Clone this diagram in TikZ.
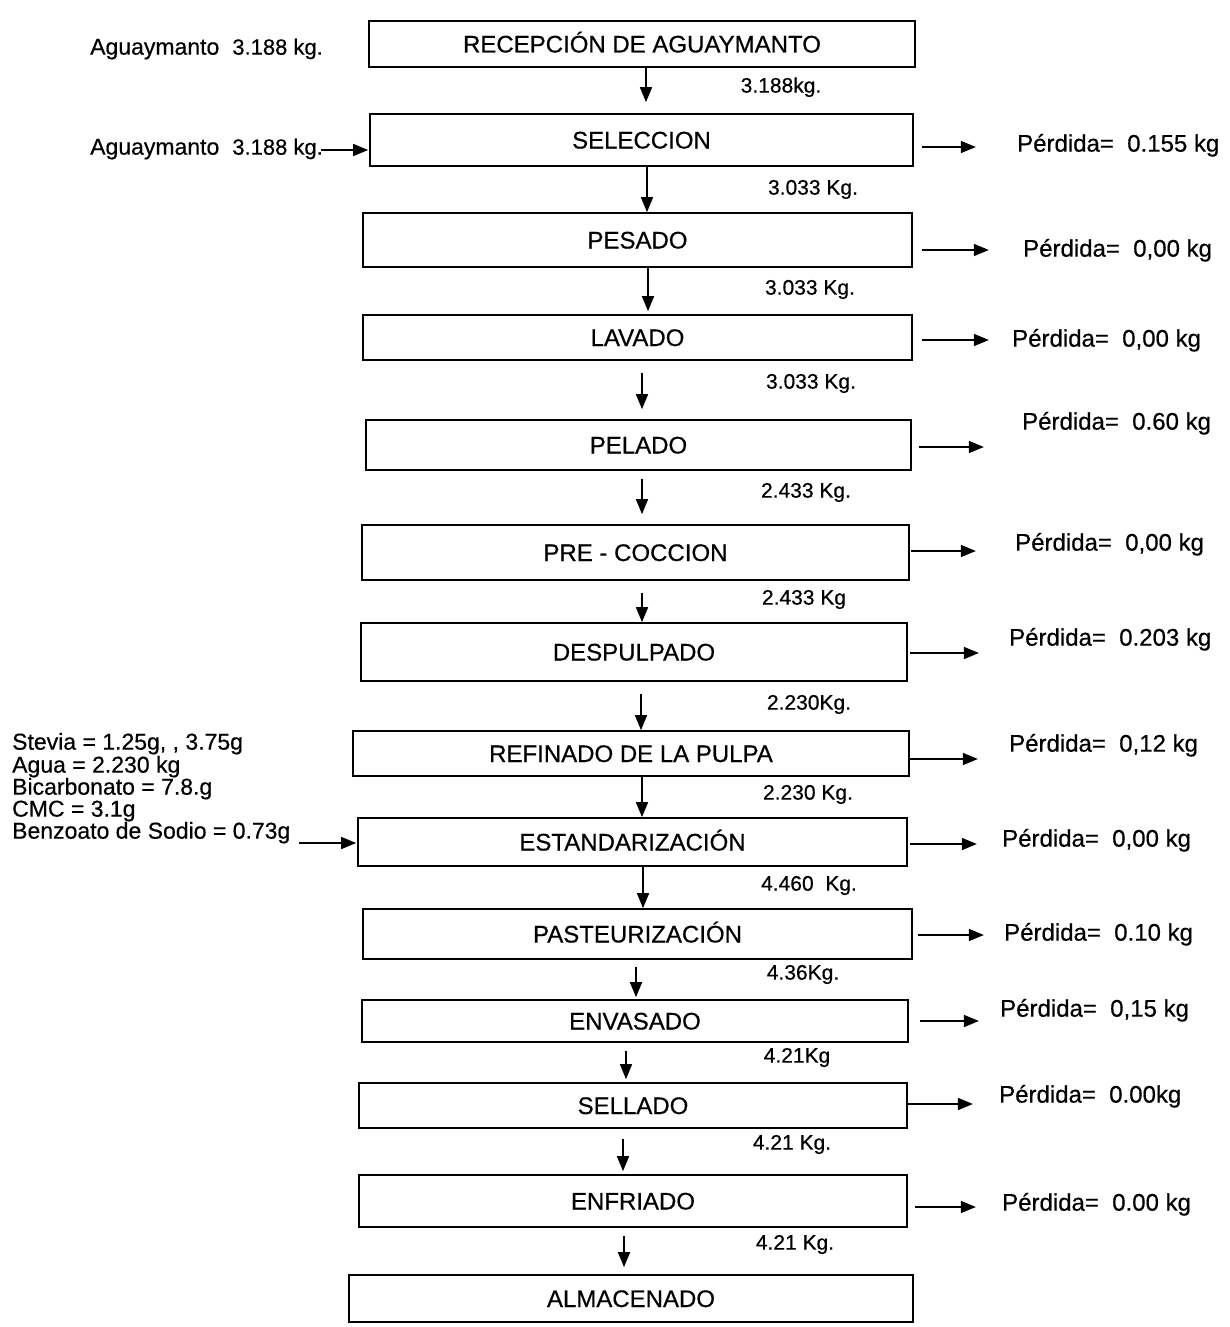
\documentclass[tikz,border=0pt]{standalone}
\usepackage{fontspec}
\setmainfont{Liberation Sans}[FakeBold=0.5]
\usetikzlibrary{arrows.meta}
\begin{document}
\begin{tikzpicture}[x=1pt,y=-1pt,
  proc/.style={draw, line width=1.7pt, inner sep=0pt, text height=17pt, text depth=0pt,
    font=\fontsize{24}{27}\selectfont},
  arr/.style={line width=1.6pt, -{Triangle[length=15pt,width=12pt]}},
  flow/.style={anchor=mid, inner sep=0pt, font=\fontsize{21}{24}\selectfont},
  loss/.style={anchor=mid west, inner sep=0pt, font=\fontsize{24}{27}\selectfont},
  inlbl/.style={anchor=mid west, inner sep=0pt, font=\fontsize{23}{27}\selectfont}]
\fill[white] (0,0) rectangle (1230,1327);
\useasboundingbox (0,0) rectangle (1230,1327);

% process boxes
\node[proc, minimum width=546pt, minimum height=46pt] (b1) at (642,44) {RECEPCIÓN DE AGUAYMANTO};
\node[proc, minimum width=543pt, minimum height=52pt] (b2) at (641.5,140) {SELECCION};
\node[proc, minimum width=549pt, minimum height=54pt] (b3) at (637.5,240) {PESADO};
\node[proc, minimum width=549pt, minimum height=45pt] (b4) at (637.5,337.5) {LAVADO};
\node[proc, minimum width=545pt, minimum height=50pt] (b5) at (638.5,445) {PELADO};
\node[proc, minimum width=547pt, minimum height=55pt] (b6) at (635.5,552.5) {PRE - COCCION};
\node[proc, minimum width=546pt, minimum height=58pt] (b7) at (634,652) {DESPULPADO};
\node[proc, minimum width=556pt, minimum height=45pt] (b8) at (631,753.5) {REFINADO DE LA PULPA};
\node[proc, minimum width=549pt, minimum height=48pt] (b9) at (632.5,842) {ESTANDARIZACIÓN};
\node[proc, minimum width=549pt, minimum height=50pt] (b10) at (637.5,934) {PASTEURIZACIÓN};
\node[proc, minimum width=546pt, minimum height=42pt] (b11) at (635,1021) {ENVASADO};
\node[proc, minimum width=548pt, minimum height=45pt] (b12) at (633,1105.5) {SELLADO};
\node[proc, minimum width=548pt, minimum height=52pt] (b13) at (633,1201) {ENFRIADO};
\node[proc, minimum width=564pt, minimum height=47pt] (b14) at (631,1298.5) {ALMACENADO};

% vertical flow arrows
\draw[arr] ([xshift=4pt]b1.south) -- ([xshift=4.5pt,yshift=11pt]b2.north);
\draw[arr] ([xshift=5.5pt]b2.south) -- ([xshift=9.5pt]b3.north);
\draw[arr] ([xshift=10.5pt]b3.south) -- ([xshift=10.5pt,yshift=3pt]b4.north);
\draw[arr] ([xshift=4.5pt,yshift=-12pt]b4.south) -- ([xshift=3.5pt,yshift=10pt]b5.north);
\draw[arr] ([xshift=3.5pt,yshift=-8pt]b5.south) -- ([xshift=6.5pt,yshift=10pt]b6.north);
\draw[arr] ([xshift=6.5pt,yshift=-12pt]b6.south) -- ([xshift=8pt]b7.north);
\draw[arr] ([xshift=7pt,yshift=-12pt]b7.south) -- ([xshift=10pt]b8.north);
\draw[arr] ([xshift=11pt]b8.south) -- ([xshift=9.5pt]b9.north);
\draw[arr] ([xshift=10.5pt]b9.south) -- ([xshift=5.5pt]b10.north);
\draw[arr] ([xshift=-1.5pt,yshift=-7pt]b10.south) -- ([xshift=1pt,yshift=2pt]b11.north);
\draw[arr] ([xshift=-9pt,yshift=-8pt]b11.south) -- ([xshift=-7pt,yshift=3pt]b12.north);
\draw[arr] ([xshift=-10pt,yshift=-10pt]b12.south) -- ([xshift=-10pt,yshift=3pt]b13.north);
\draw[arr] ([xshift=-9pt,yshift=-8pt]b13.south) -- ([xshift=-7pt,yshift=7pt]b14.north);

% flow quantities
\node[flow] (q1) at (781,90) {3.188kg.};
\node[flow] (q2) at (813,192) {3.033 Kg.};
\node[flow] (q3) at (810,292) {3.033 Kg.};
\node[flow] (q4) at (811,386) {3.033 Kg.};
\node[flow] (q5) at (806,495) {2.433 Kg.};
\node[flow] (q6) at (804,602) {2.433 Kg};
\node[flow] (q7) at (809,707) {2.230Kg.};
\node[flow] (q8) at (808,797) {2.230 Kg.};
\node[flow] (q9) at (809,888) {4.460\ \ Kg.};
\node[flow] (q10) at (803,977) {4.36Kg.};
\node[flow] (q11) at (797,1060) {4.21Kg};
\node[flow] (q12) at (792,1147) {4.21 Kg.};
\node[flow] (q13) at (795,1247) {4.21 Kg.};

% losses
\node[loss] (p2) at (1017,149) {Pérdida=\ \ 0.155 kg};
\node[loss] (p3) at (1023,254) {Pérdida=\ \ 0,00 kg};
\node[loss] (p4) at (1012,344) {Pérdida=\ \ 0,00 kg};
\node[loss] (p5) at (1022,427) {Pérdida=\ \ 0.60 kg};
\node[loss] (p6) at (1015,548) {Pérdida=\ \ 0,00 kg};
\node[loss] (p7) at (1009,643) {Pérdida=\ \ 0.203 kg};
\node[loss] (p8) at (1009,749) {Pérdida=\ \ 0,12 kg};
\node[loss] (p9) at (1002,844) {Pérdida=\ \ 0,00 kg};
\node[loss] (p10) at (1004,938) {Pérdida=\ \ 0.10 kg};
\node[loss] (p11) at (1000,1014) {Pérdida=\ \ 0,15 kg};
\node[loss] (p12) at (999,1100) {Pérdida=\ \ 0.00kg};
\node[loss] (p13) at (1002,1208) {Pérdida=\ \ 0.00 kg};

\draw[arr] ([xshift=8pt,yshift=-7pt]b2.east) -- ([xshift=62pt,yshift=-7pt]b2.east);
\draw[arr] ([xshift=9pt,yshift=-10pt]b3.east) -- ([xshift=76pt,yshift=-10pt]b3.east);
\draw[arr] ([xshift=9pt,yshift=-2.5pt]b4.east) -- ([xshift=76pt,yshift=-2.5pt]b4.east);
\draw[arr] ([xshift=7pt,yshift=-2pt]b5.east) -- ([xshift=72pt,yshift=-2pt]b5.east);
\draw[arr] ([xshift=1pt,yshift=1.5pt]b6.east) -- ([xshift=66pt,yshift=1.5pt]b6.east);
\draw[arr] ([xshift=2pt,yshift=-1pt]b7.east) -- ([xshift=71pt,yshift=-1pt]b7.east);
\draw[arr] ([xshift=0pt,yshift=-5.5pt]b8.east) -- ([xshift=68pt,yshift=-5.5pt]b8.east);
\draw[arr] ([xshift=2pt,yshift=-2pt]b9.east) -- ([xshift=69pt,yshift=-2pt]b9.east);
\draw[arr] ([xshift=5pt,yshift=-1pt]b10.east) -- ([xshift=71pt,yshift=-1pt]b10.east);
\draw[arr] ([xshift=11pt]b11.east) -- ([xshift=70pt]b11.east);
\draw[arr] ([xshift=0pt,yshift=1.5pt]b12.east) -- ([xshift=65pt,yshift=1.5pt]b12.east);
\draw[arr] ([xshift=7pt,yshift=-6pt]b13.east) -- ([xshift=68pt,yshift=-6pt]b13.east);

% inputs
\node[inlbl] (a1) at (90,52) {Aguaymanto\hspace{13pt}{\fontsize{22}{24}\selectfont 3.188 kg.}};
\node[inlbl] (a2) at (90,152) {Aguaymanto\hspace{13pt}{\fontsize{22}{24}\selectfont 3.188 kg.}};
\draw[arr] ([xshift=-48pt,yshift=-10pt]b2.west) -- ([xshift=-1pt,yshift=-10pt]b2.west);

\node[inlbl] (i1) at (12,747) {Stevia = 1.25g, , 3.75g};
\node[inlbl] (i2) at (12,770) {Agua = 2.230 kg};
\node[inlbl] (i3) at (12,792) {Bicarbonato = 7.8.g};
\node[inlbl] (i4) at (12,814) {CMC = 3.1g};
\node[inlbl] (i5) at (12,836) {Benzoato de Sodio = 0.73g};
\draw[arr] ([xshift=-58pt,yshift=-1pt]b9.west) -- ([xshift=-1pt,yshift=-1pt]b9.west);
\end{tikzpicture}
\end{document}
